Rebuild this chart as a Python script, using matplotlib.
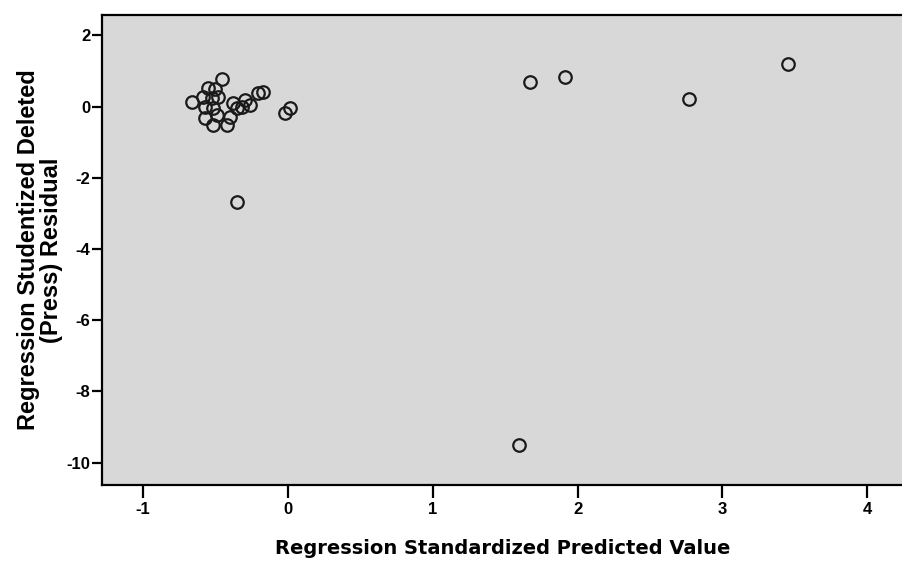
import numpy as np
import matplotlib
matplotlib.use("Agg")
import matplotlib.pyplot as plt

# standardized predicted value vs studentized deleted residual
pred = [-0.454, -0.550, -0.504, -0.665, -0.585, -0.527, -0.481, -0.573,
        -0.516, -0.573, -0.492, -0.516, -0.423, -0.400, -0.378, -0.171,
        -0.205, -0.297, -0.320, -0.354, -0.262, 0.014, -0.021,
        -0.352, 1.671, 1.913, 2.770, 3.453, 1.595]
resid = [0.77, 0.51, 0.49, 0.13, 0.28, 0.23, 0.28, -0.01,
         -0.05, -0.33, -0.24, -0.52, -0.52, -0.29, 0.09, 0.42,
         0.37, 0.18, -0.01, -0.05, 0.04, -0.05, -0.19,
         -2.68, 0.69, 0.83, 0.21, 1.19, -9.51]

xticks = [-1, 0, 1, 2, 3, 4]
yticks = [2, 0, -2, -4, -6, -8, -10]

fig = plt.figure(figsize=(9.03, 5.67), dpi=100)
ax = fig.add_axes([0.1126, 0.1446, 0.8874, 0.8289])
ax.set_facecolor('#d8d8d8')

ax.plot(pred, resid, 'o', markersize=9, markerfacecolor='none',
        markeredgecolor='#1a1a1a', markeredgewidth=1.6)

ax.set_xlim(-1.287, 4.247)
ax.set_ylim(-10.63, 2.57)
ax.set_xticks(xticks)
ax.set_yticks(yticks)
ax.set_xticklabels([str(t) for t in xticks], fontsize=12, fontweight='bold',
                   family='Liberation Sans')
ax.set_yticklabels([str(t) for t in yticks], fontsize=12, fontweight='bold',
                   family='Liberation Sans')
ax.tick_params(axis='x', direction='out', length=9, width=1.6, pad=3)
ax.tick_params(axis='y', direction='out', length=7, width=1.6, pad=1)

for s in ['left', 'bottom', 'top']:
    ax.spines[s].set_linewidth(1.6)
ax.spines['right'].set_visible(False)

ax.set_xlabel('Regression Standardized Predicted Value', fontsize=14,
              fontweight='bold', family='DejaVu Sans', labelpad=16)
ax.set_ylabel('Regression Studentized Deleted\n(Press) Residual', fontsize=17,
              fontweight='bold', family='Liberation Sans', labelpad=3,
              linespacing=1.0)

fig.savefig('out.png', dpi=100)
